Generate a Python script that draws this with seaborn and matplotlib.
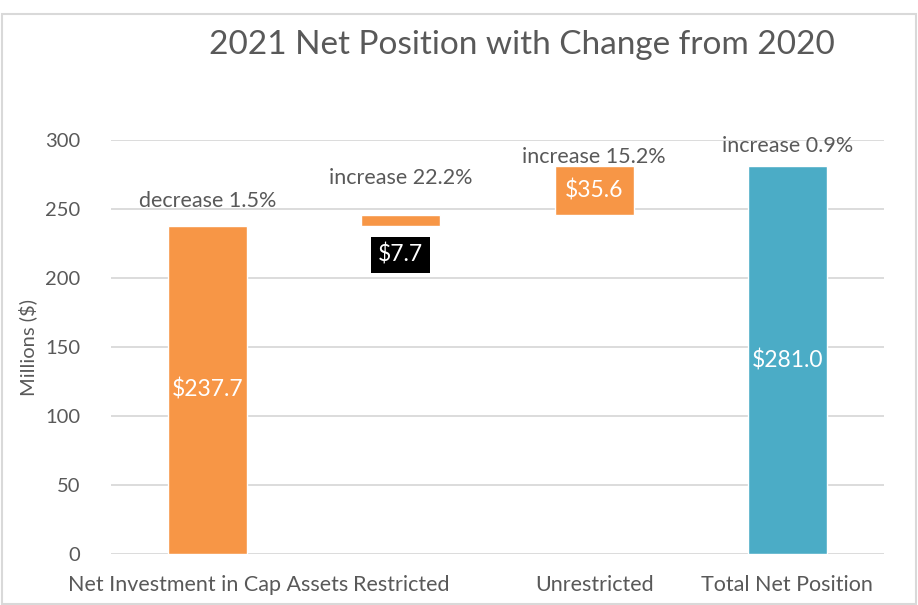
import matplotlib
matplotlib.use("Agg")
import matplotlib.pyplot as plt
import seaborn as sns
from matplotlib.patches import Rectangle

# data
categories = ["Net Investment in Cap Assets", "Restricted", "Unrestricted", "Total Net Position"]
amounts = [237.7, 7.7, 35.6, 281.0]
bases = [0, 237.7, 245.4, 0]
change_labels = ["decrease 1.5%", "increase 22.2%", "increase 15.2%", "increase 0.9%"]
value_labels = ["$237.7", "$7.7", "$35.6", "$281.0"]

# label gap above each bar (the source chart has hand-placed labels)
label_gaps = [18, 27, 7, 15]

orange = "#F79646"
teal = "#4BACC6"
grey_text = "#595959"

sns.set_style("white")
plt.rcParams["font.family"] = ["Lato", "DejaVu Sans"]

fig = plt.figure(figsize=(9.18, 6.05), dpi=100)
ax = fig.add_axes([111 / 918, 51 / 605, 773 / 918, 414 / 605])

sns.barplot(x=categories, y=amounts, bottom=bases, color=orange, width=0.41,
            saturation=1, ax=ax)
ax.patches[3].set_facecolor(teal)

ax.set_xlim(-0.5, 3.5)
ax.set_ylim(0, 300)
ax.set_yticks(range(0, 301, 50))
ax.yaxis.grid(True, color="#D9D9D9", linewidth=1.3)
ax.set_axisbelow(True)
sns.despine(ax=ax, left=True, bottom=True)
ax.tick_params(axis="y", length=0, labelsize=14.5, colors=grey_text, pad=22)
ax.tick_params(axis="x", length=0, labelsize=15.5, colors=grey_text, pad=15)
ax.set_ylabel("Millions ($)", fontsize=14.5, color=grey_text, labelpad=6)
ax.set_xlabel("")

# change annotations above bars
for i, lab in enumerate(change_labels):
    top = bases[i] + amounts[i]
    ax.text(i, top + label_gaps[i], lab, ha="center", va="center", fontsize=15.5,
            color=grey_text, clip_on=False)

# value labels
ax.text(0, amounts[0] / 2, value_labels[0], ha="center", va="center", fontsize=16.5, color="white")
ax.text(1, bases[1] - 21, value_labels[1], ha="center", va="center", fontsize=16.5, color="white",
        bbox=dict(boxstyle="square,pad=0.3", facecolor="black", edgecolor="none"))
ax.text(2, bases[2] + amounts[2] / 2, value_labels[2], ha="center", va="center", fontsize=16.5,
        color="white")
ax.text(3, amounts[3] / 2, value_labels[3], ha="center", va="center", fontsize=16.5, color="white")

fig.text(0.568, 0.925, "2021 Net Position with Change from 2020", ha="center", va="center",
         fontsize=24, color=grey_text)

fig.patches.append(Rectangle((0.002, 0.002), 0.996, 0.975, transform=fig.transFigure,
                             fill=False, edgecolor="#D9D9D9", linewidth=1.5))

fig.savefig("out.png", dpi=100)
